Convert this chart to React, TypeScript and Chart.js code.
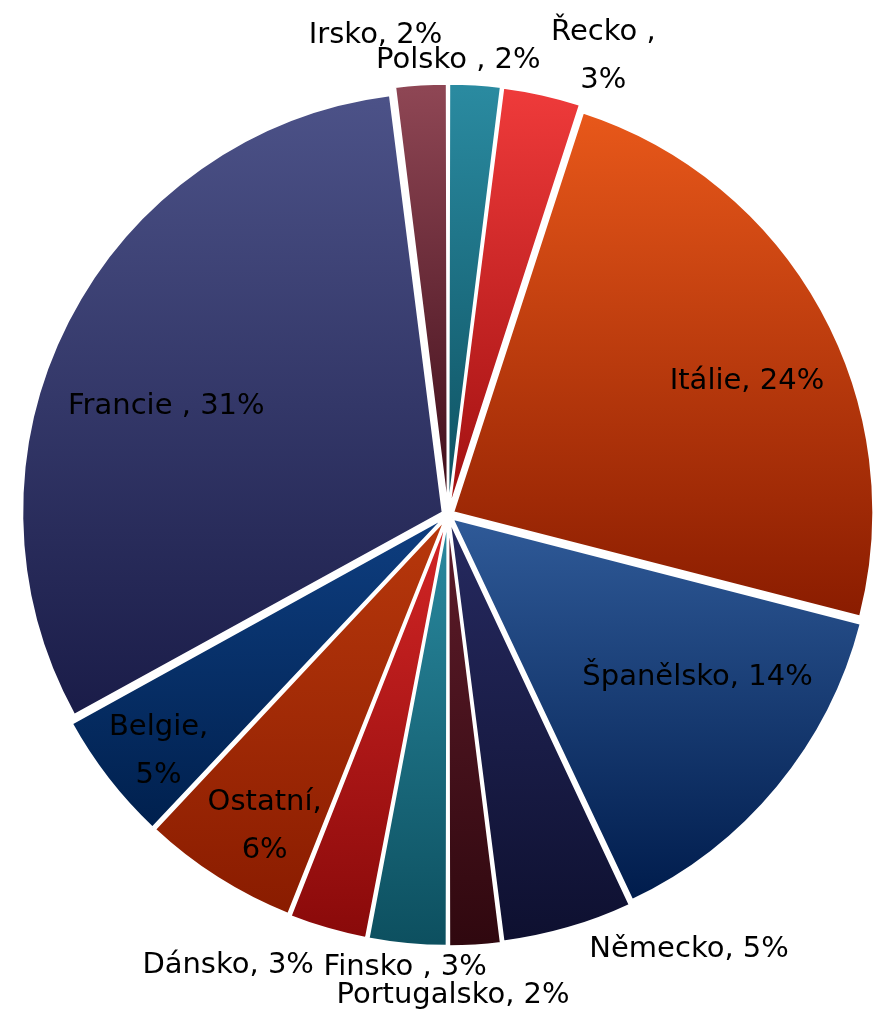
import React, { useEffect, useRef } from "react";
import { Chart, registerables } from "chart.js";

Chart.register(...registerables);

// ---- data ----
const categories = ["Polsko ", "Řecko ", "Itálie", "Španělsko", "Německo", "Portugalsko", "Finsko ", "Dánsko", "Ostatní", "Belgie", "Francie ", "Irsko"];
const shares = [2, 3, 24, 14, 5, 2, 3, 3, 6, 5, 31, 2];
const twoLineLabels = [false, true, false, false, false, false, false, false, true, true, false, false];

// ---- styles ----
const lightColors = ["#2a8aa0", "#ee3a3a", "#e8581a", "#2f5a98", "#262a60", "#5e1c2a", "#2a8aa0", "#d42626", "#b8380c", "#0e3e80", "#4c5288", "#8e4654"];
const darkColors = ["#0d5060", "#a01010", "#8a1c00", "#001c4c", "#0e1030", "#30080f", "#0d5060", "#8a0a0a", "#8a1c00", "#00204e", "#1a1c48", "#3e0c18"];
// label placement: [angle in degrees clockwise from 12 o'clock, fraction of outer radius]
const labelPlacement: [number, number][] = [
  [1.3, 1.07], [18.7, 1.14], [66, 0.77], [123, 0.70], [151, 1.17], [179.4, 1.13],
  [185.4, 1.07], [206, 1.18], [210.5, 0.85], [230.7, 0.88], [291, 0.71], [351.4, 1.14],
];
const FONT = "29px 'DejaVu Sans', Verdana, sans-serif";

function sectorGradient(ctx: any) {
  const chart = ctx.chart;
  const area = chart.chartArea;
  const i = ctx.dataIndex;
  if (!area) return lightColors[i];
  const cx = (area.left + area.right) / 2;
  const cy = (area.top + area.bottom) / 2;
  const R = 420;
  const total = shares.reduce((a, b) => a + b, 0);
  let before = 0;
  for (let k = 0; k < i; k++) before += shares[k];
  const a0 = (before / total) * Math.PI * 2;
  const a1 = ((before + shares[i]) / total) * Math.PI * 2;
  const ys = [cy, cy - R * Math.cos(a0), cy - R * Math.cos(a1)];
  if (a0 <= 0.0001 || a1 >= Math.PI * 2 - 0.0001) ys.push(cy - R);
  if (a0 <= Math.PI && a1 >= Math.PI) ys.push(cy + R);
  const top = Math.min(...ys);
  const bottom = Math.max(...ys);
  const g = chart.ctx.createLinearGradient(0, top, 0, bottom + 1);
  g.addColorStop(0, lightColors[i]);
  g.addColorStop(1, darkColors[i]);
  return g;
}

const labelPlugin = {
  id: "sliceLabels",
  afterDatasetsDraw(chart: any) {
    const meta = chart.getDatasetMeta(0);
    const ctx = chart.ctx;
    const total = shares.reduce((a, b) => a + b, 0);
    ctx.save();
    ctx.font = FONT;
    ctx.fillStyle = "#000";
    ctx.textAlign = "center";
    ctx.textBaseline = "middle";
    meta.data.forEach((arc: any, i: number) => {
      const { x, y, outerRadius } = arc.getProps(["x", "y", "outerRadius"], true);
      const R = outerRadius + 5;
      const [deg, f] = labelPlacement[i];
      const a = (deg * Math.PI) / 180;
      const px = x + Math.sin(a) * R * f;
      const py = y - Math.cos(a) * R * f;
      const pct = Math.round((shares[i] / total) * 100) + "%";
      if (twoLineLabels[i]) {
        ctx.fillText(categories[i] + ",", px, py - 24);
        ctx.fillText(pct, px, py + 24);
      } else {
        ctx.fillText(categories[i] + ", " + pct, px, py);
      }
    });
    ctx.restore();
  },
};

export default function App() {
  const ref = useRef<HTMLCanvasElement>(null);
  useEffect(() => {
    if (!ref.current) return;
    const chart = new Chart(ref.current, {
      type: "pie",
      data: {
        labels: categories,
        datasets: [
          {
            data: shares,
            backgroundColor: sectorGradient as any,
            borderColor: "#ffffff",
            borderWidth: 2,
            offset: 24,
          },
        ],
      },
      options: {
        animation: false,
        responsive: true,
        maintainAspectRatio: false,
        radius: 420,
        layout: { padding: { left: 23, right: 0, top: 90, bottom: 76 } },
        plugins: { legend: { display: false }, tooltip: { enabled: false } },
      } as any,
      plugins: [labelPlugin],
    });
    return () => chart.destroy();
  }, []);
  return (
    <div style={{ position: "absolute", left: 0, top: 0, width: 873, height: 1016, background: "#fff" }}>
      <canvas ref={ref} />
    </div>
  );
}
